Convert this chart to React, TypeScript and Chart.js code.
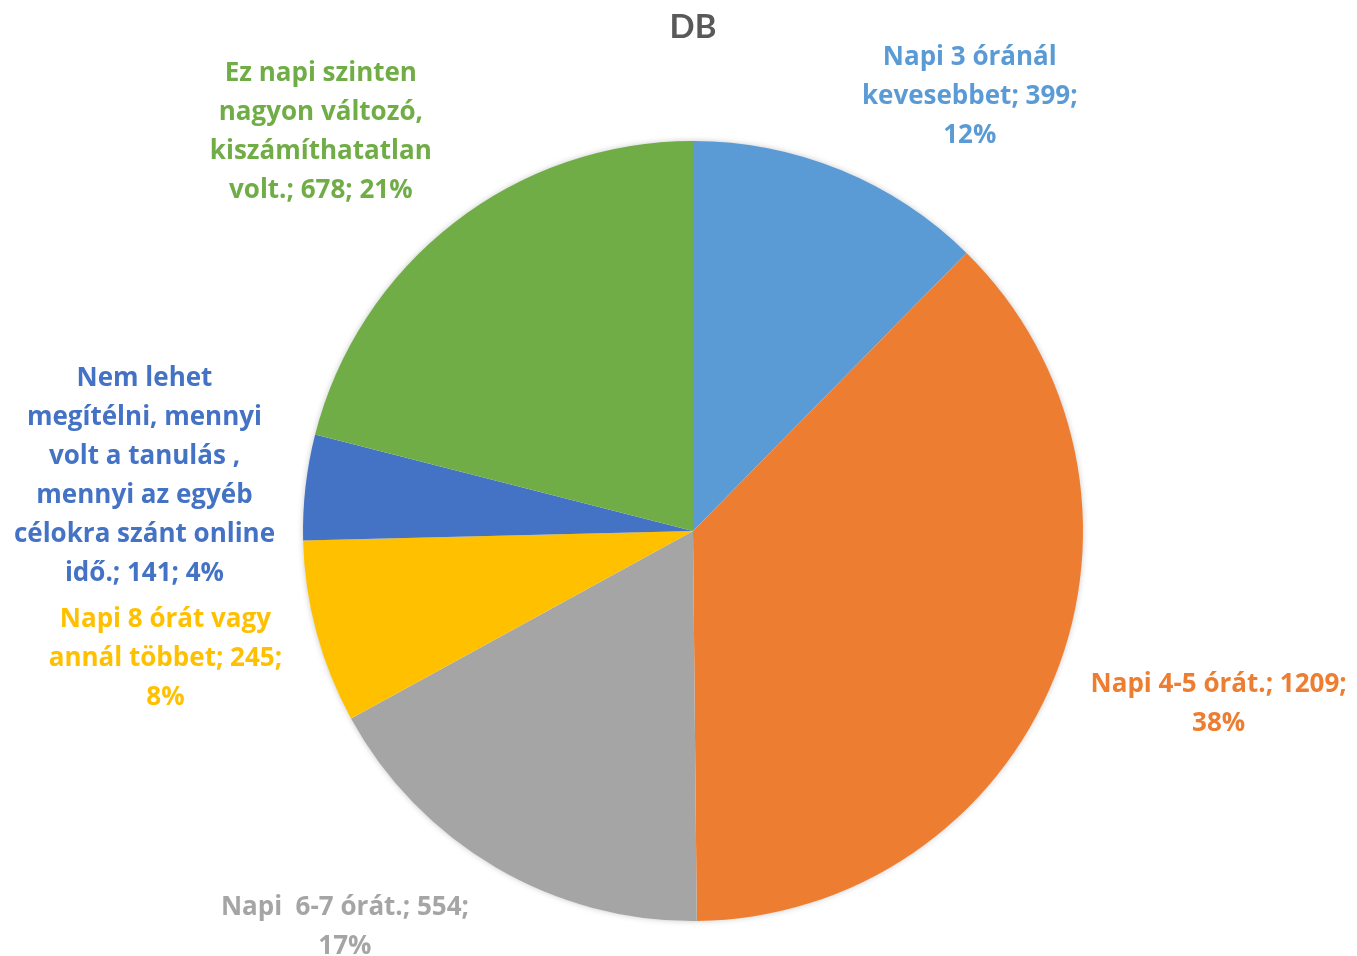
import React, { useEffect, useRef } from "react";
import { Chart, registerables } from "chart.js";

Chart.register(...registerables);

const categories = [
  "Napi 3 óránál kevesebbet",
  "Napi 4-5 órát.",
  "Napi  6-7 órát.",
  "Napi 8 órát vagy annál többet",
  "Nem lehet megítélni, mennyi volt a tanulás , mennyi az egyéb célokra szánt online idő.",
  "Ez napi szinten nagyon változó, kiszámíthatatlan volt.",
];
const values = [399, 1209, 554, 245, 141, 678];
const percents = [12, 38, 17, 8, 4, 21];
const colors = ["#5B9BD5", "#ED7D31", "#A5A5A5", "#FFC000", "#4472C4", "#70AD47"];
const labelLines = [
  ["Napi 3 óránál", "kevesebbet; 399;", "12%"],
  ["Napi 4-5 órát.; 1209;", "38%"],
  ["Napi  6-7 órát.; 554;", "17%"],
  ["Napi 8 órát vagy", "annál többet; 245;", "8%"],
  ["Nem lehet", "megítélni, mennyi", "volt a tanulás ,", "mennyi az egyéb", "célokra szánt online", "idő.; 141; 4%"],
  ["Ez napi szinten", "nagyon változó,", "kiszámíthatatlan", "volt.; 678; 21%"],
];
// label block centre offsets from the outer edge of each slice's mid-angle
const labelOffsets = [
  [129, -73],
  [164, 27],
  [-151, 60],
  [-151, 26],
  [-161, -11],
  [-133, -91],
];

const TITLE_FONT = "Lato, 'Open Sans', sans-serif";
const LABEL_FONT = "'Open Sans', Lato, sans-serif";

const shadowPlugin = {
  id: "pieShadow",
  beforeDatasetsDraw(chart: any) {
    const meta = chart.getDatasetMeta(0);
    const arc = meta.data[0];
    if (!arc) return;
    const { x, y, outerRadius } = arc.getProps(["x", "y", "outerRadius"], true);
    const ctx = chart.ctx;
    ctx.save();
    ctx.shadowColor = "rgba(0,0,0,0.25)";
    ctx.shadowBlur = 6;
    ctx.fillStyle = "#ffffff";
    ctx.beginPath();
    ctx.arc(x, y, outerRadius - 0.5, 0, Math.PI * 2);
    ctx.fill();
    ctx.restore();
  },
};

const labelPlugin = {
  id: "pieLabels",
  afterDatasetsDraw(chart: any) {
    const meta = chart.getDatasetMeta(0);
    const ctx = chart.ctx;
    ctx.save();
    ctx.font = `bold 26px ${LABEL_FONT}`;
    ctx.textAlign = "center";
    ctx.textBaseline = "middle";
    const lh = 39;
    meta.data.forEach((arc: any, i: number) => {
      const { x, y, startAngle, endAngle, outerRadius } = arc.getProps(
        ["x", "y", "startAngle", "endAngle", "outerRadius"],
        true
      );
      const mid = (startAngle + endAngle) / 2;
      const ex = x + Math.cos(mid) * outerRadius;
      const ey = y + Math.sin(mid) * outerRadius;
      const cx = ex + labelOffsets[i][0];
      const cy = ey + labelOffsets[i][1];
      const lines = labelLines[i];
      const top = cy - ((lines.length - 1) * lh) / 2;
      ctx.fillStyle = colors[i];
      lines.forEach((ln, k) => ctx.fillText(ln, cx, top + k * lh));
    });
    ctx.restore();
  },
};

export default function App() {
  const ref = useRef<HTMLCanvasElement>(null);
  useEffect(() => {
    document.body.style.margin = "0";
    const chart = new Chart(ref.current!, {
      type: "pie",
      data: {
        labels: categories,
        datasets: [
          {
            data: values,
            backgroundColor: colors,
            borderWidth: 0,
          },
        ],
      },
      options: {
        animation: false,
        responsive: false,
        layout: { padding: { left: 303, right: 274, top: 0, bottom: 35 } },
        plugins: {
          legend: { display: false },
          tooltip: { enabled: false },
          title: {
            display: true,
            text: "DB",
            color: "#595959",
            font: { family: TITLE_FONT, size: 33, weight: "bold", lineHeight: 1.2 },
            padding: { top: 8, bottom: 93.4 },
          },
        },
      },
      plugins: [shadowPlugin, labelPlugin],
    } as any);
    (chart as any).$percents = percents;
    return () => chart.destroy();
  }, []);
  return (
    <div style={{ position: "absolute", left: 0, top: 0, width: 1357, height: 956, background: "#fff" }}>
      <canvas ref={ref} width={1357} height={956} />
    </div>
  );
}
